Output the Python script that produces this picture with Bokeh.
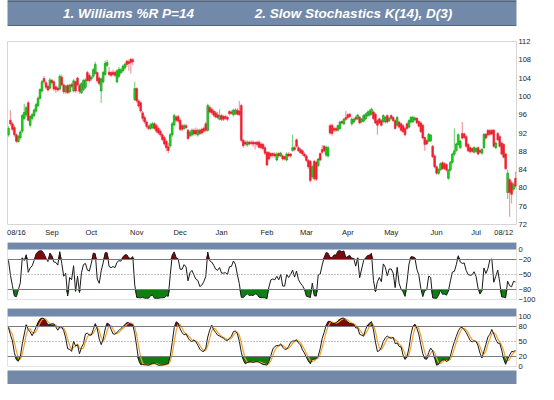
import numpy as np
import pandas as pd
from bokeh.plotting import figure
from bokeh.layouts import column
from bokeh.models import ColumnDataSource, FixedTicker, Label, Span, Range1d, BoxAnnotation
from bokeh.embed import file_html
from bokeh.resources import INLINE

# ---------------- data ----------------
opens = [91.6,94.8,94.0,93.2,91.6,90.1,91.0,92.4,95.2,96.0,
98.6,93.7,95.2,95.8,96.8,98.0,99.6,101.2,103.9,103.0,
102.2,101.8,103.5,103.2,102.1,101.8,101.6,104.2,102.5,101.0,
102.4,101.0,102.6,101.2,103.2,104.0,102.4,100.8,101.5,102.0,
105.2,104.6,103.8,104.4,105.0,105.2,104.0,101.2,103.2,104.8,
106.8,105.3,105.2,105.3,105.2,103.2,104.4,105.2,105.6,106.2,
107.7,107.6,108.1,108.0,99.3,101.7,99.0,98.6,96.4,95.4,
94.4,93.4,93.0,93.2,94.0,93.6,93.0,92.4,91.6,91.0,
90.2,89.0,89.2,91.6,93.8,95.5,95.6,94.8,93.6,93.0,
93.6,92.6,91.4,91.6,92.6,92.6,91.6,92.6,92.8,93.0,
94.0,92.6,97.6,97.2,96.8,96.4,96.0,95.0,95.8,95.6,
95.6,95.4,96.7,96.6,96.0,96.2,97.0,96.8,98.0,90.4,
90.0,89.4,90.0,90.0,90.0,89.9,90.0,90.0,89.6,89.5,
88.8,87.8,87.7,87.5,87.5,87.4,86.1,87.5,87.0,87.0,
86.8,86.1,87.4,87.4,88.2,88.8,90.5,88.8,88.4,88.1,
87.4,87.0,86.0,85.8,82.5,85.8,85.6,84.9,87.5,88.4,
89.1,87.2,87.0,93.6,93.7,93.0,93.0,92.6,93.0,94.5,
94.0,95.4,96.0,96.1,94.0,94.4,95.4,95.1,95.4,94.5,
94.6,95.1,95.8,95.9,96.1,96.6,96.1,94.7,95.1,94.7,
94.5,94.4,95.8,94.7,95.8,95.4,94.7,93.7,94.4,94.0,
93.6,93.0,94.0,93.3,94.4,94.5,94.9,95.2,94.5,94.2,
93.7,91.0,90.3,90.2,90.3,89.1,87.0,84.6,83.2,84.0,
85.5,85.3,85.1,82.1,83.9,85.6,87.4,88.2,89.5,88.8,
91.9,91.8,91.2,89.5,88.8,88.6,87.8,88.0,88.8,88.2,
87.6,88.8,91.7,92.6,92.5,92.6,92.6,88.8,91.9,91.2,
89.8,89.5,87.4,79.0,81.8,81.1,79.7,82.1]

highs = [93.5,97.0,94.4,93.7,91.9,91.6,92.6,96.2,98.4,97.9,
99.0,95.9,96.4,97.4,98.6,100.0,101.8,103.6,104.4,103.4,
102.6,104.0,103.8,103.5,102.4,102.2,104.8,104.8,102.8,102.5,
102.7,102.8,103.0,103.8,103.5,104.3,102.8,103.1,103.8,104.0,
105.6,105.0,104.5,106.2,107.6,105.5,104.4,104.2,105.6,107.8,
108.0,106.4,105.6,105.8,105.6,105.9,106.4,106.2,107.0,107.4,
108.0,108.1,108.4,108.4,103.2,102.0,99.4,98.9,96.8,95.8,
94.8,93.8,94.2,94.4,94.4,94.0,93.4,92.8,92.0,91.4,
90.6,89.8,92.0,94.4,96.2,95.9,96.0,95.2,94.0,94.0,
94.0,92.9,92.6,93.0,93.0,93.2,93.0,93.0,93.2,93.5,
94.4,98.4,98.0,97.6,97.2,96.8,96.6,97.2,96.2,96.0,
96.0,95.8,97.0,97.0,97.3,97.4,97.4,99.0,98.4,90.8,
90.4,90.4,90.3,90.4,90.4,90.2,90.3,90.4,90.0,89.8,
89.2,88.0,88.0,87.8,87.8,87.8,87.8,87.9,87.9,87.3,
87.1,87.8,87.8,87.6,91.6,89.2,90.8,89.2,88.8,88.4,
87.8,87.3,86.3,86.1,85.0,86.1,86.0,86.6,87.8,89.4,
89.4,89.2,89.2,94.0,94.0,93.4,93.4,93.9,94.7,94.8,
95.3,96.8,96.3,96.4,95.4,95.3,95.8,96.2,95.7,95.3,
96.1,96.4,96.9,97.2,97.5,96.9,96.4,95.0,95.4,95.0,
96.1,95.7,96.1,95.5,96.1,95.7,95.0,95.7,94.7,94.3,
93.9,93.3,94.3,95.0,95.7,95.8,95.6,95.5,94.8,94.5,
94.0,91.2,90.6,92.0,91.8,89.4,87.3,84.9,84.3,85.6,
85.8,85.6,85.4,84.2,85.9,87.7,93.0,89.9,91.9,90.5,
94.4,92.1,91.5,89.8,89.1,88.9,89.1,88.9,89.1,88.5,
88.7,92.0,92.0,92.9,92.8,92.9,92.9,90.1,92.2,91.5,
90.1,89.8,87.7,84.0,82.2,81.6,81.2,83.6]

lows = [91.2,93.6,92.4,91.2,89.8,89.9,90.6,92.0,94.9,95.6,
94.5,93.2,94.8,95.5,96.5,97.7,99.3,100.9,102.8,101.5,
101.0,101.5,102.6,101.2,100.8,101.0,101.3,102.2,100.5,100.6,
100.5,100.7,101.8,100.9,100.8,102.2,100.6,100.5,101.2,101.6,
103.2,103.0,103.4,104.1,104.8,103.0,102.4,98.6,102.8,104.5,
106.4,104.4,104.2,104.4,104.2,102.8,104.0,104.8,105.2,105.8,
106.4,105.6,105.0,106.8,99.0,98.6,97.5,96.4,94.6,94.0,
93.0,92.6,92.6,92.8,92.6,92.0,91.6,91.2,90.2,89.2,
88.0,87.6,88.8,91.2,93.5,94.4,94.2,92.4,92.4,92.6,
92.8,90.4,91.0,91.2,91.4,91.4,91.2,91.5,91.6,92.0,
92.2,92.3,96.2,96.0,95.5,95.2,95.0,94.8,94.6,94.6,
94.8,94.6,95.8,96.0,95.6,95.9,95.8,95.6,90.0,88.8,
89.2,89.0,89.2,89.3,89.0,88.4,89.0,88.6,88.4,88.2,
87.2,84.8,86.0,86.6,86.6,86.6,85.8,86.6,86.7,86.0,
86.0,85.8,86.7,86.6,87.9,88.0,88.8,87.8,87.4,87.0,
86.6,85.6,84.2,81.2,82.0,81.6,81.5,84.5,85.8,87.4,
87.8,86.8,86.6,91.6,91.4,92.2,92.2,92.3,92.7,93.9,
93.7,94.6,95.0,95.2,93.6,94.0,94.6,94.8,93.9,94.2,
94.3,94.8,95.5,95.6,95.8,94.8,93.9,91.6,93.9,93.4,
94.2,94.1,94.1,94.4,94.9,94.4,92.7,93.4,93.0,92.3,
92.0,91.3,92.7,93.0,94.1,94.2,94.6,93.9,93.2,92.0,
90.6,88.1,89.3,89.9,90.0,86.5,84.3,82.9,82.9,83.7,
83.9,83.9,83.6,81.8,83.6,85.3,87.0,87.9,89.2,88.5,
90.6,90.7,88.8,87.8,87.6,87.7,87.5,87.7,87.1,87.5,
87.3,88.5,90.6,91.3,91.4,91.5,88.8,88.5,90.2,88.8,
87.1,86.4,83.9,77.6,73.7,76.6,79.2,80.0]

closes = [93.0,94.0,92.8,91.6,90.2,91.2,92.2,95.8,96.5,97.5,
94.8,95.6,96.0,97.0,98.2,99.6,101.5,103.2,103.2,102.0,
101.4,103.6,103.0,101.6,101.5,101.4,104.4,102.5,101.0,102.2,
100.8,102.4,102.2,103.4,101.2,102.5,101.1,102.8,103.5,103.6,
103.5,103.4,104.2,105.8,107.0,103.4,102.8,103.8,105.2,107.2,
107.4,104.8,104.6,104.8,104.6,105.6,105.9,105.8,106.6,107.0,
107.0,107.2,107.4,107.6,101.7,99.0,97.9,96.8,95.2,94.4,
93.4,93.0,93.8,94.0,93.0,92.4,92.0,91.6,90.6,89.6,
88.8,88.2,91.6,94.0,95.8,94.8,94.6,92.8,92.8,93.6,
93.2,90.8,92.2,92.6,91.8,91.8,92.6,91.9,92.0,92.4,
92.6,98.0,96.6,96.4,95.9,95.5,95.4,95.8,95.0,95.0,
95.2,95.0,96.2,96.3,97.0,97.0,96.1,96.0,90.4,89.2,
89.6,90.0,89.6,89.7,89.6,89.6,89.5,88.9,88.8,88.6,
87.6,85.0,86.3,87.0,87.1,87.0,87.4,87.0,87.6,86.3,
86.3,87.4,87.0,87.0,88.8,88.4,89.1,88.1,87.7,87.4,
87.0,86.0,84.6,81.6,84.6,82.0,81.9,86.3,86.1,87.8,
88.1,88.9,88.8,92.0,91.9,92.6,92.6,93.6,94.4,94.2,
95.0,95.0,95.4,95.6,95.0,95.0,95.0,95.9,94.2,95.0,
95.8,96.1,96.5,96.8,97.2,95.1,94.2,93.7,94.2,93.7,
95.8,95.4,94.4,95.2,95.2,94.7,93.0,95.4,93.3,92.6,
92.3,91.6,93.0,94.7,95.4,95.4,95.3,94.2,93.5,92.3,
90.9,89.5,89.6,91.7,91.5,86.8,84.6,83.2,84.0,85.3,
84.2,84.2,83.9,83.9,85.6,87.4,88.1,89.6,91.6,90.2,
90.9,91.0,89.1,88.1,87.9,88.0,88.8,88.6,87.4,87.8,
88.4,91.7,90.9,91.6,91.7,91.8,89.1,89.8,90.5,89.1,
87.4,86.7,84.2,83.2,79.0,78.6,80.7,80.4]

first_label = "08/16"
last_label = "08/12"
month_labels = ["Sep", "Oct", "Nov", "Dec", "Jan", "Feb", "Mar", "Apr", "May", "Jun", "Jul"]
price_ticks = [72, 76, 80, 84, 88, 92, 96, 100, 104, 108, 112]
wr_ticks = [0, -20, -50, -80, -100]
st_ticks = [100, 80, 50, 20, 0]
title_left = "1. Williams %R P=14"
title_right = "2. Slow Stochastics K(14), D(3)"
wr_period = 14
k_period = 14
d_period = 3

# ---------------- derived ----------------
N = len(closes)
dates = pd.bdate_range("2012-08-16", periods=N)
x = np.arange(N)
o = np.array(opens); h = np.array(highs); l = np.array(lows); c = np.array(closes)

hs, ls, cs = pd.Series(h), pd.Series(l), pd.Series(c)
hh = hs.rolling(wr_period, min_periods=1).max()
ll = ls.rolling(wr_period, min_periods=1).min()
wr = (-100.0 * (hh - cs) / (hh - ll)).to_numpy()
hk = hs.rolling(k_period, min_periods=1).max()
lk = ls.rolling(k_period, min_periods=1).min()
fastk = 100.0 * (cs - lk) / (hk - lk)
slowk = fastk.rolling(d_period, min_periods=1).mean()
slowd = slowk.rolling(d_period, min_periods=1).mean()
slowk = slowk.to_numpy(); slowd = slowd.to_numpy()

up = c >= o
BAR = "#7389a9"
FONT = "Liberation Sans"
W = 538
G_BODY, G_LINE, G_WICK = "#22dd22", "#0a8c0a", "#7fd47f"
R_BODY, R_WICK = "#ee1f2d", "#f29aa3"
DARKRED, DKGREEN = "#7d0a0a", "#0f800f"

src = ColumnDataSource(dict(
    x=x, top=np.maximum(o, c), bottom=np.minimum(o, c), high=h, low=l,
    fill=[G_BODY if u else R_BODY for u in up],
    line=[G_LINE if u else R_BODY for u in up],
    wick=[G_WICK if u else R_WICK for u in up],
))

def style_axis(ax):
    ax.axis_line_color = None
    ax.major_tick_line_color = None
    ax.minor_tick_line_color = None
    ax.major_tick_out = 0
    ax.major_tick_in = 0
    ax.major_label_text_font = FONT
    ax.major_label_text_font_size = "7.5px"
    ax.major_label_text_color = "#222222"
    ax.major_label_standoff = 2

def bar_fig(height, left, right):
    f = figure(width=W, height=height, x_range=(0, 1), y_range=(0, 1),
               x_axis_location=None, y_axis_location=None,
               toolbar_location=None, output_backend="svg",
               min_border_left=left, min_border_right=right,
               min_border_top=0, min_border_bottom=0)
    f.grid.visible = False
    f.background_fill_color = BAR
    f.border_fill_color = "white"
    f.outline_line_color = None
    return f

# ---- header bar ----
hdr = bar_fig(26, 0, 0)
hdr.add_layout(Span(location=1, dimension="width", line_color="#34445a", line_width=2))
hdr.add_layout(Span(location=0, dimension="width", line_color="#34445a", line_width=2))
for txt, cx in ((title_left, 121), (title_right, 346)):
    hdr.add_layout(Label(x=cx, y=13, x_units="screen", y_units="screen", text=txt,
                         text_align="center", text_baseline="middle", text_color="white",
                         text_font=FONT, text_font_size="13.5px", text_font_style="bold italic"))

# ---- main price chart ----
xr = Range1d(-0.5, N - 0.5)
main = figure(width=W, height=216, x_range=xr, y_range=Range1d(72, 112),
              x_axis_location="below", y_axis_location="right",
              toolbar_location=None, output_backend="svg",
              min_border_left=7, min_border_right=18, min_border_top=15, min_border_bottom=18)
main.grid.visible = False
main.outline_line_color = "#d6d6d6"
main.segment(x0="x", y0="high", x1="x", y1="low", source=src, line_color="wick", line_width=1.2)
main.vbar(x="x", width=0.88, top="top", bottom="bottom", source=src,
          fill_color="fill", line_color="line", line_width=0.6)

month_starts = pd.date_range("2012-09-01", periods=len(month_labels), freq="MS")
tick_pos = [4] + [int(np.searchsorted(dates.values, (m + pd.Timedelta(days=14)).to_datetime64()))
                  for m in month_starts] + [N - 7]
tick_text = [first_label] + month_labels + [last_label]
main.xaxis.ticker = FixedTicker(ticks=tick_pos)
main.xaxis.major_label_overrides = {t: s for t, s in zip(tick_pos, tick_text)}
main.yaxis.ticker = FixedTicker(ticks=price_ticks)
for ax in main.axis:
    style_axis(ax)
main.xaxis.major_label_standoff = 3

# ---- oscillator panels ----
def osc_fig(height, lo, hi, bar_units, bottom_border, ticks):
    f = figure(width=W, height=height, x_range=xr, y_range=Range1d(lo, hi + bar_units),
               x_axis_location=None, y_axis_location="right",
               toolbar_location=None, output_backend="svg",
               min_border_left=7, min_border_right=18, min_border_top=0,
               min_border_bottom=bottom_border)
    f.grid.visible = False
    f.outline_line_color = "#e2e2e2"
    f.add_layout(BoxAnnotation(bottom=hi, fill_color=BAR, fill_alpha=1.0, line_color=None))
    f.yaxis.ticker = FixedTicker(ticks=ticks)
    style_axis(f.yaxis[0])
    return f

def levels(f, upper, mid, lower):
    for lv in (upper, lower):
        f.add_layout(Span(location=lv, dimension="width", line_color="#7a7a7a", line_width=1))
    f.add_layout(Span(location=mid, dimension="width", line_color="#8a8a8a",
                      line_width=1, line_dash="1 2"))

pw = osc_fig(66, -100, 0, 14, 9, wr_ticks)
pw.varea(x=x, y1=-20, y2=np.maximum(wr, -20), fill_color=DARKRED)
pw.varea(x=x, y1=np.minimum(wr, -80), y2=-80, fill_color=DKGREEN)
levels(pw, -20, -50, -80)
pw.line(x, wr, line_color="#1a1a1a", line_width=1)

ps = osc_fig(62, 0, 100, 16, 4, st_ticks)
ps.varea(x=x, y1=80, y2=np.maximum(slowk, 80), fill_color=DARKRED)
ps.varea(x=x, y1=np.minimum(slowk, 20), y2=20, fill_color=DKGREEN)
levels(ps, 80, 50, 20)
ps.line(x, slowd, line_color="#f2a22a", line_width=1.2)
ps.line(x, slowk, line_color="#1a1a1a", line_width=1)

# ---- bottom bar ----
bot = bar_fig(14, 0, 16)

layout = column(hdr, main, pw, ps, bot, spacing=0)
open("out.html", "w").write(file_html(layout, INLINE))
